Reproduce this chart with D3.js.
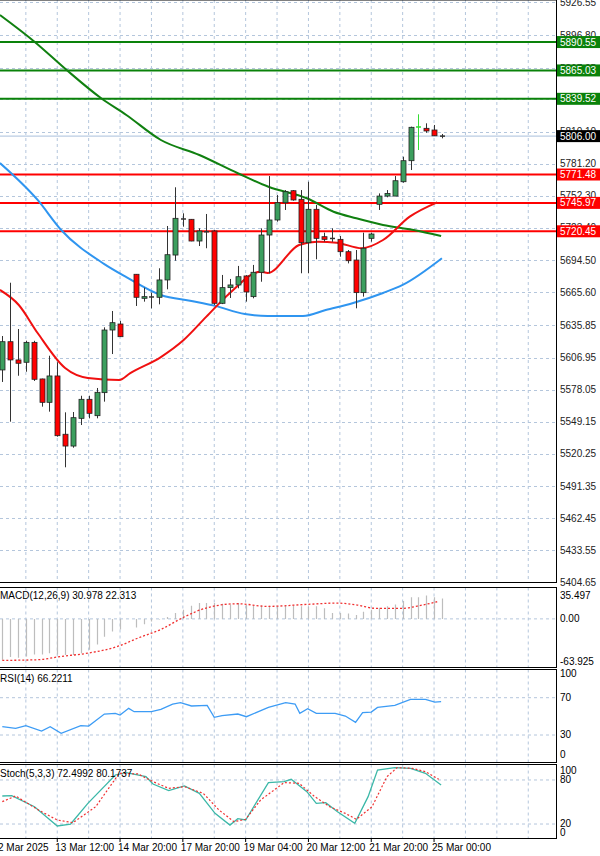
<!DOCTYPE html>
<html><head><meta charset="utf-8">
<script src="https://cdn.jsdelivr.net/npm/d3@7"></script>
<style>body{margin:0;background:#fff}svg{display:block}text{font-family:"Liberation Sans",Arial,sans-serif;font-size:10px}</style>
</head><body><svg id="c" width="600" height="856"></svg>
<script>
// OHLC per 4h candle (null = no bar)
const opens  = [5595.8,5621.2,5604.8,5602.7,5620.6,5587.7,5566.7,5590.4,5538.0,5527.4,5552.3,5569.4,5554.7,5575.4,5631.7,5637.1,null,5681.8,5660.2,5660.9,5661.1,5676.7,5699.1,5731.0,5731.2,5711.7,5720.3,5720.7,5655.7,5669.8,5672.2,5680.3,5661.7,5683.6,5717.1,5730.6,5746.1,5756.9,5749.2,5710.2,5740.2,5715.6,5714.5,5713.2,5702.1,5694.6,5665.3,5714.1,5744.7,5752.1,5752.1,5765.0,5783.9,5813.9,5813.0,5811.5,5806.5];
const highs  = [5626.3,5674.2,5632.6,5622.1,5622.0,5588.0,5608.6,5602.7,5557.7,5558.0,5572.6,5572.6,5579.6,5634.1,5648.8,5639.9,null,5682.0,5669.8,5665.3,5687.2,5725.2,5760.0,5736.6,5731.5,5723.1,5736.0,5721.6,5681.2,5677.6,5689.3,5681.0,5690.2,5723.1,5770.1,5753.0,5757.5,5757.5,5757.5,5765.0,5744.1,5719.2,5723.1,5716.2,5703.6,5703.6,5719.2,5719.2,5754.5,5757.5,5770.1,5787.5,5814.5,5825.6,5817.5,5816.0,5807.9];
const lows   = [5585.0,5549.3,5590.6,5594.2,5585.9,5562.8,5558.3,5535.8,5508.3,5525.9,5546.3,5552.3,5552.3,5567.3,5610.1,5625.4,null,5653.3,5657.2,5651.2,5654.8,5668.3,5694.0,5724.6,5711.5,5707.2,5705.2,5654.2,5655.0,5660.5,5669.2,5657.2,5660.2,5675.1,5682.7,5729.1,5739.6,5748.0,5682.7,5682.7,5695.3,5711.1,5711.0,5697.6,5691.6,5651.2,5661.7,5711.1,5739.6,5751.0,5752.1,5764.1,5775.5,5793.5,5809.0,5806.1,5804.0];
const closes = [5621.2,5604.8,5601.8,5620.6,5587.4,5566.7,5590.4,5536.7,5527.4,5552.9,5569.4,5556.8,5575.7,5631.7,5638.3,5625.7,null,5661.1,5661.7,5661.4,5676.7,5699.4,5732.1,5731.5,5711.7,5720.7,5720.0,5655.7,5669.8,5672.2,5679.6,5665.9,5683.6,5717.1,5730.6,5746.1,5756.0,5748.6,5710.2,5740.2,5714.1,5713.2,5714.0,5702.1,5694.0,5665.3,5705.2,5718.0,5752.1,5754.5,5765.9,5783.9,5813.9,5814.2,5810.6,5806.3,5806.0];
// Moving averages [candle index, value]
const maBlue  = [[-0.3,5781.8],[4.5,5748.6],[7.5,5721.6],[13,5691.0],[15.8,5679.3],[20.2,5663.2],[24.1,5657.8],[27,5653.6],[30.9,5646.1],[33.8,5644.3],[38.3,5644.3],[41.2,5649.7],[44.7,5656.0],[48.5,5665.0],[51,5672.2],[56,5696.2]];
const maRed   = [[-0.3,5667.7],[2.1,5654.2],[4.5,5629.0],[8,5597.5],[10.9,5588.6],[14.9,5586.8],[16.3,5593.0],[20.2,5607.4],[23.1,5622.7],[26,5643.7],[29,5665.0],[32.9,5684.1],[33.8,5683.0],[37.8,5708.1],[40.2,5711.1],[42.6,5710.2],[45.8,5705.2],[48.5,5712.6],[51.9,5733.6],[55.4,5746.5]];
const maGreen = [[-0.3,5914.9],[4.1,5890.9],[8.2,5865.4],[12.6,5840.0],[15.8,5825.0],[20.2,5802.5],[25.1,5789.0],[30,5772.6],[33.9,5760.5],[38.8,5750.1],[42.2,5738.0],[45.1,5732.1],[48.5,5726.1],[52.4,5721.6],[55.9,5716.2]];
const resistLevels = [5890.55,5865.03,5839.52];
const supportLevels = [5771.48,5745.97,5720.45];
const lastPrice = 5806.00;
const priceTicks = [5926.55,5896.80,5867.05,5839.30,5810.10,5781.20,5752.30,5723.40,5694.50,5665.60,5635.85,5606.95,5578.05,5549.15,5520.25,5491.35,5462.45,5433.55,5404.65];
const macdHist = [-62,-58,-59,-57,-54,-54,-52,-54,-55,-55,-52,-47,-39,-27,-19,-16,null,-13,-8,-4,-1,3,9,14,20,24,24,24,23,22,24,21,20,20,20,19,20,20,19,18,19,16,9,9,8,6,11,14,17,19,22,27,33,33,35.5,33,31];
const macdSignal = [[0,-63],[4.5,-62],[7.5,-57],[10.9,-52],[14.9,-41],[17.3,-29],[20.2,-16],[23.1,2.5],[26.1,17],[30,23],[33.8,19],[38.8,22],[42.6,24],[45.2,21],[47.6,16],[50.9,16],[53.5,21],[55.4,26]];
const rsi = [[0,38.9],[1.7,37.1],[3,40],[5,34.3],[6.1,38.9],[7.5,31.8],[10,40],[11,39.6],[13,52.5],[14.4,53.2],[15,51.4],[16.1,58.6],[16.8,55],[19,55],[20.2,57.5],[21.7,63.2],[22.7,64.6],[24.1,61.1],[26.1,61.8],[27,48.9],[28,50.7],[30,52.5],[31.1,49.6],[33.9,59.6],[36.1,64.6],[37.3,63.2],[37.9,53.2],[38.9,58.2],[40,53.2],[42.4,53.2],[43.7,50.3],[45,43.6],[45.9,53.9],[47,54.6],[47.8,59.6],[50,61.8],[52,68.2],[53.9,68.2],[55.1,65.3],[55.9,65.7]];
const stochK = [[0,58.2],[1.2,58.6],[4.1,43.6],[7,17.3],[8.7,20],[10.9,48.2],[14.4,86.8],[15.8,90],[18.3,84.5],[19.2,74.5],[21.2,65.5],[23.2,71.8],[25.1,61.8],[27.1,34.5],[29,18.6],[30,27.3],[31,25.5],[33.9,76.4],[35.9,77.7],[36.8,80.9],[38.8,64.1],[40,48.2],[41.2,49.1],[42.7,36.8],[44.9,20.9],[46.6,57.3],[47.8,93.6],[50,96.8],[52,95.9],[53.9,89.1],[55.9,73.2]];
const stochD = [[0,50.5],[1.7,58.2],[4.6,39.1],[7,25.5],[9,21.8],[11.9,43.6],[14.9,89.1],[17.3,88.2],[19.2,77.7],[21.2,68.6],[23.2,70.9],[25.6,61.8],[27.6,39.1],[29.5,23.2],[31,26.4],[32.9,52.7],[35.9,76.4],[37.8,75.5],[39.8,57.3],[41.7,43.6],[43.7,34.5],[45.1,26.4],[47.1,43.6],[49,84.5],[50.3,96.8],[52.2,95.9],[53.9,91.4],[55.6,80.9]];
const timeLabels = [[-1,"12 Mar 2025"],[7,"13 Mar 12:00"],[15,"14 Mar 20:00"],[23,"17 Mar 20:00"],[31,"19 Mar 04:00"],[39,"20 Mar 12:00"],[47,"21 Mar 20:00"],[55,"25 Mar 00:00"]];

const svg = d3.select("#c");
const R = 556;
const x = d3.scaleLinear().domain([0,56]).range([2.3,441.9]);
const panels = {
  main:{top:0,bottom:582.5},
  macd:{top:587.5,bottom:667.5},
  rsi:{top:669.5,bottom:762.5},
  st:{top:764.5,bottom:838.5}
};
const y = d3.scaleLinear().domain([5404.65,5926.55]).range([582.6,2.0]);
const yM = d3.scaleLinear().domain([-63.925,35.497]).range([661,595.5]);
const yR = d3.scaleLinear().domain([0,100]).range([763,669.7]);
const yS = d3.scaleLinear().domain([0,100]).range([838.7,765.3]);
const gridC = "#b4c6dc";
const defs = svg.append("defs");
Object.entries(panels).forEach(([k,p])=>{
  defs.append("clipPath").attr("id","cp"+k).append("rect").attr("x",0).attr("y",p.top).attr("width",R).attr("height",p.bottom-p.top);
});
const gridIdx = d3.range(3,71,4);
Object.entries(panels).forEach(([k,p])=>{
  const g = svg.append("g").attr("clip-path",`url(#cp${k})`);
  g.selectAll("line").data(gridIdx).join("line").attr("x1",d=>x(d)).attr("x2",d=>x(d)).attr("y1",p.top).attr("y2",p.bottom)
   .attr("stroke",gridC).attr("stroke-dasharray","3,3");
});
const gm = svg.append("g").attr("clip-path","url(#cpmain)");
gm.selectAll("line.h").data(priceTicks).join("line").attr("x1",0).attr("x2",R).attr("y1",d=>Math.round(y(d))+.5).attr("y2",d=>Math.round(y(d))+.5).attr("stroke",gridC).attr("stroke-dasharray","3,3");
svg.append("g").selectAll("text").data(priceTicks).join("text").attr("x",560).attr("y",d=>y(d)+3.5).attr("fill","#222").text(d=>d.toFixed(2));
gm.selectAll("line.r").data(resistLevels).join("line").attr("x1",0).attr("x2",R).attr("y1",d=>y(d)).attr("y2",d=>y(d)).attr("stroke","#0a820a").attr("stroke-width",2);
gm.selectAll("line.s").data(supportLevels).join("line").attr("x1",0).attr("x2",R).attr("y1",d=>y(d)).attr("y2",d=>y(d)).attr("stroke","#ff0000").attr("stroke-width",2);
gm.append("line").attr("x1",0).attr("x2",R).attr("y1",y(lastPrice)).attr("y2",y(lastPrice)).attr("stroke","#a9c0dc").attr("stroke-width",1);
const line = (ys)=>d3.line().x(d=>x(d[0])).y(d=>ys(d[1])).curve(d3.curveMonotoneX);
gm.append("path").attr("d",line(y)(maGreen)).attr("fill","none").attr("stroke","#108010").attr("stroke-width",2);
gm.append("path").attr("d",line(y)(maBlue)).attr("fill","none").attr("stroke","#2f95f0").attr("stroke-width",2);
gm.append("path").attr("d",line(y)(maRed)).attr("fill","none").attr("stroke","#f01010").attr("stroke-width",2);
const idx = d3.range(opens.length).filter(i=>opens[i]!==null);
const cg = gm.append("g");
idx.forEach(i=>{
  const o=opens[i],c=closes[i],h=highs[i],l=lows[i];
  const up=c>=o, cx=Math.round(x(i))+.5;
  const doji = Math.abs(y(o)-y(c))<1.5;
  const wc = i===53?"#33dd33":"#333";
  cg.append("line").attr("x1",cx).attr("x2",cx).attr("y1",y(h)).attr("y2",y(l)).attr("stroke",wc);
  if(doji){
    cg.append("line").attr("x1",cx-2.5).attr("x2",cx+2.5).attr("y1",y(c)).attr("y2",y(c)).attr("stroke",wc).attr("stroke-width",1.5);
  } else {
    cg.append("rect").attr("x",cx-2.5).attr("width",5).attr("y",y(Math.max(o,c))).attr("height",Math.abs(y(o)-y(c)))
      .attr("fill",up?"#3c9e5e":"#ff0000").attr("stroke","#222").attr("stroke-width",0.8);
  }
});
const boxes = resistLevels.map(v=>[v,"#0a820a"]).concat(supportLevels.map(v=>[v,"#ff0000"])).concat([[lastPrice,"#000"]]);
const bg = svg.append("g");
boxes.forEach(([v,col])=>{
  bg.append("rect").attr("x",557).attr("y",y(v)-6).attr("width",43).attr("height",12).attr("fill",col);
  bg.append("text").attr("x",560).attr("y",y(v)+3.5).attr("fill","#fff").text(v.toFixed(2));
});
const gmac = svg.append("g").attr("clip-path","url(#cpmacd)");
gmac.append("line").attr("x1",0).attr("x2",R).attr("y1",yM(0)).attr("y2",yM(0)).attr("stroke",gridC).attr("stroke-dasharray","3,3");
gmac.selectAll("line.b").data(d3.range(macdHist.length).filter(i=>macdHist[i]!==null)).join("line")
  .attr("x1",i=>Math.round(x(i))+.5).attr("x2",i=>Math.round(x(i))+.5).attr("y1",yM(0)).attr("y2",i=>yM(macdHist[i])).attr("stroke","#bdbdbd").attr("stroke-width",1.2);
gmac.append("path").attr("d",line(yM)(macdSignal)).attr("fill","none").attr("stroke","#f03030").attr("stroke-width",1.3).attr("stroke-dasharray","2,2");
svg.append("text").attr("x",0).attr("y",599).text("MACD(12,26,9) 30.978 22.313");
[[35.497,"35.497"],[0,"0.00"],[-63.925,"-63.925"]].forEach(([v,t])=>svg.append("text").attr("x",560).attr("y",yM(v)+3.5).text(t));
const gr = svg.append("g").attr("clip-path","url(#cprsi)");
[70,30].forEach(v=>gr.append("line").attr("x1",0).attr("x2",R).attr("y1",yR(v)).attr("y2",yR(v)).attr("stroke",gridC).attr("stroke-dasharray","3,3"));
gr.append("path").attr("d",d3.line().x(d=>x(d[0])).y(d=>yR(d[1]))(rsi)).attr("fill","none").attr("stroke","#3d9cf5").attr("stroke-width",1.3);
svg.append("text").attr("x",0).attr("y",682).text("RSI(14) 66.2211");
[[100,676.5],[70,700.5],[30,738],[0,758]].forEach(([v,yy])=>svg.append("text").attr("x",560).attr("y",yy).text(v));
const gs = svg.append("g").attr("clip-path","url(#cpst)");
[80,20].forEach(v=>gs.append("line").attr("x1",0).attr("x2",R).attr("y1",yS(v)).attr("y2",yS(v)).attr("stroke",gridC).attr("stroke-dasharray","3,3"));
gs.append("path").attr("d",d3.line().x(d=>x(d[0])).y(d=>yS(d[1]))(stochK)).attr("fill","none").attr("stroke","#3cb8a8").attr("stroke-width",1.3);
gs.append("path").attr("d",d3.line().x(d=>x(d[0])).y(d=>yS(d[1]))(stochD)).attr("fill","none").attr("stroke","#f03030").attr("stroke-width",1.2).attr("stroke-dasharray","2,2");
svg.append("text").attr("x",0).attr("y",777).text("Stoch(5,3,3) 72.4992 80.1737");
[[100,774],[80,783],[20,827],[0,836]].forEach(([v,yy])=>svg.append("text").attr("x",560).attr("y",yy).text(v));
Object.values(panels).forEach(p=>{
  svg.append("rect").attr("x",-1).attr("y",p.top).attr("width",R+1.5).attr("height",p.bottom-p.top).attr("fill","none").attr("stroke","#000");
});
svg.append("g").selectAll("line").data(timeLabels).join("line").attr("x1",d=>x(d[0])).attr("x2",d=>x(d[0])).attr("y1",838.5).attr("y2",842).attr("stroke","#000");
svg.append("g").selectAll("text").data(timeLabels).join("text").attr("x",d=>x(d[0])-2).attr("y",851).text(d=>d[1]);
</script></body></html>
